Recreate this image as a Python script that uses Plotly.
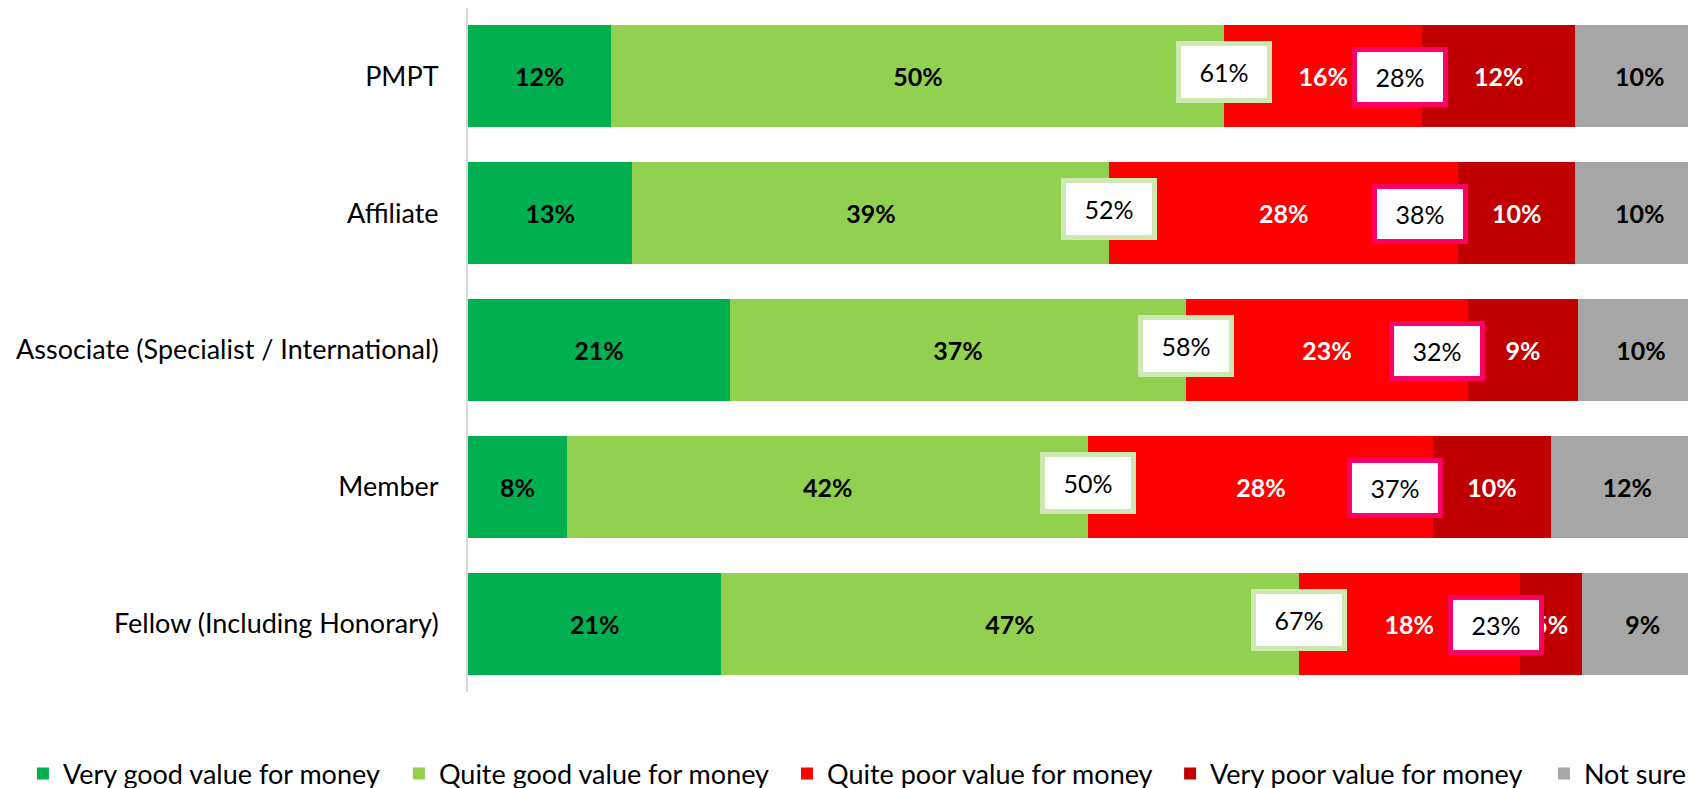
import plotly.graph_objects as go

categories = ["PMPT", "Affiliate", "Associate (Specialist / International)", "Member", "Fellow (Including Honorary)"]
series_names = ["Very good value for money", "Quite good value for money",
                "Quite poor value for money", "Very poor value for money", "Not sure"]

very_good = [11.6, 13.3, 21.2, 8.0, 20.5]
quite_good = [49.6, 38.6, 36.9, 42.2, 46.7]
quite_poor = [16.0, 28.2, 22.8, 27.9, 17.9]
very_poor = [12.4, 9.5, 8.9, 9.5, 5.0]
not_sure = [10.4, 10.4, 10.2, 12.4, 9.9]

very_good_lbl = ["12%", "13%", "21%", "8%", "21%"]
quite_good_lbl = ["50%", "39%", "37%", "42%", "47%"]
quite_poor_lbl = ["16%", "28%", "23%", "28%", "18%"]
very_poor_lbl = ["12%", "10%", "9%", "10%", "5%"]
not_sure_lbl = ["10%", "10%", "10%", "12%", "9%"]

net_good_lbl = ["61%", "52%", "58%", "50%", "67%"]
net_poor_lbl = ["28%", "38%", "32%", "37%", "23%"]

colors = ["#00B050", "#92D050", "#FF0000", "#C00000", "#A6A6A6"]
text_colors = ["black", "black", "white", "white", "black"]

FONT = "Lato, sans-serif"

values = [very_good, quite_good, quite_poor, very_poor, not_sure]
labels = [very_good_lbl, quite_good_lbl, quite_poor_lbl, very_poor_lbl, not_sure_lbl]
legend_ids = ["legend", "legend2", "legend3", "legend4", "legend5"]
legend_x = [0.0088, 0.2305, 0.4593, 0.6852, 0.9056]

fig = go.Figure()
for name, vals, lbls, col, tcol, lid in zip(series_names, values, labels, colors, text_colors, legend_ids):
    fig.add_trace(go.Bar(
        y=categories, x=vals, name=name, orientation="h",
        marker=dict(color=col, line=dict(width=0)),
        text=lbls, textposition="inside", insidetextanchor="middle",
        textangle=0, constraintext="none",
        textfont=dict(family=FONT, size=25, color=tcol, weight="bold"),
        hoverinfo="skip", legend=lid,
    ))

# net boxes
for i, cat in enumerate(categories):
    good_total = very_good[i] + quite_good[i]
    fig.add_annotation(
        x=good_total, y=cat, xref="x", yref="y", text=net_good_lbl[i],
        showarrow=False, font=dict(family=FONT, size=25, color="black"),
        bgcolor="white", bordercolor="#CDE9B1", borderwidth=5, borderpad=3,
        width=80, height=46, yshift=4,
    )
    fig.add_annotation(
        x=good_total + 0.89 * quite_poor[i], y=cat, xref="x", yref="y", text=net_poor_lbl[i],
        showarrow=False, font=dict(family=FONT, size=25, color="black"),
        bgcolor="white", bordercolor="#FF0066", borderwidth=5, borderpad=3,
        width=80, height=44, yshift=-1,
    )

layout_legends = {}
for lid, lx in zip(legend_ids, legend_x):
    layout_legends[lid] = dict(
        orientation="h", xref="container", yref="container",
        x=lx, xanchor="left", y=0.028, yanchor="middle",
        font=dict(family=FONT, size=27, color="black"),
        bgcolor="rgba(0,0,0,0)", itemwidth=30,
    )

fig.update_layout(
    barmode="stack", bargap=0.255,
    width=1696, height=788,
    margin=dict(l=460, r=0, t=0, b=104),
    plot_bgcolor="white", paper_bgcolor="white",
    font=dict(family=FONT, size=27, color="black"),
    showlegend=True,
    xaxis=dict(range=[0, 100], showgrid=False, showticklabels=False, zeroline=False,
               showline=False, fixedrange=True),
    yaxis=dict(autorange="reversed", showgrid=False, showline=True, linecolor="#D9D9D9",
               linewidth=2, ticks="", ticklabelstandoff=22, automargin=False,
               tickfont=dict(family=FONT, size=27, color="black")),
    **layout_legends,
)

fig.write_html("out.html")
